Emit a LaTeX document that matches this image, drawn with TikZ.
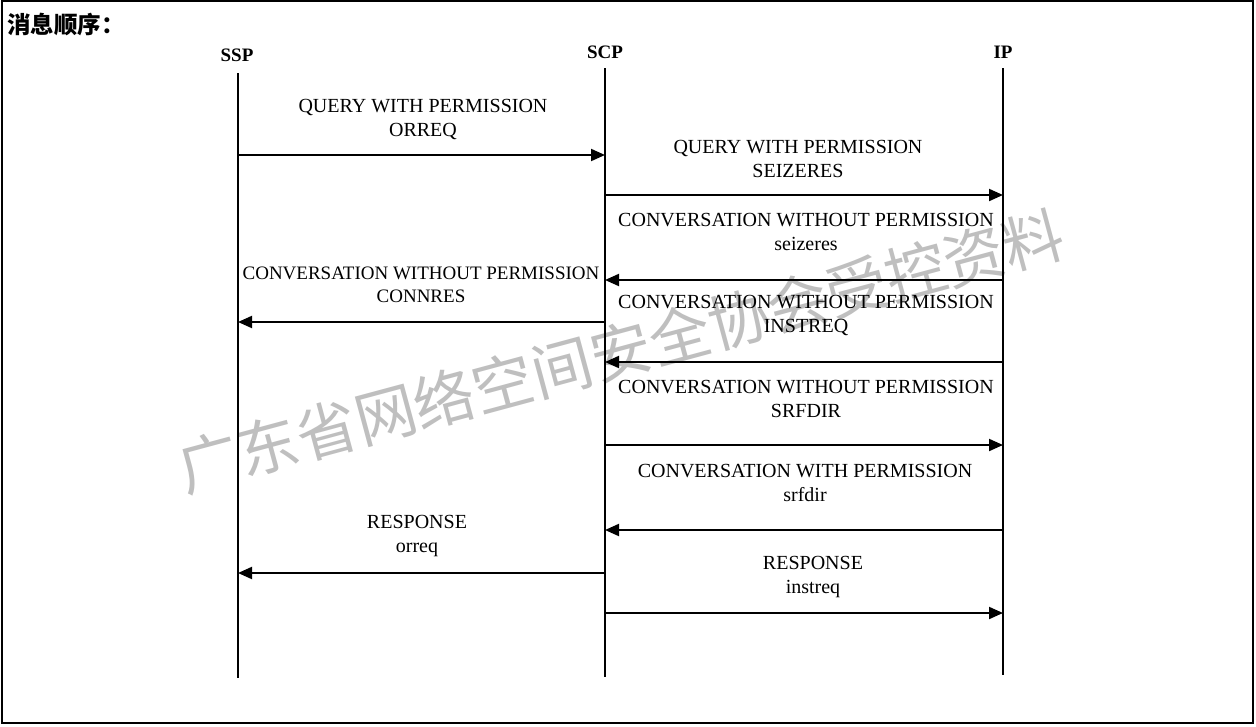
\documentclass[tikz,border=0pt]{standalone}
\usepackage{fontspec}
\setmainfont{Liberation Serif}
\newfontfamily\cjk{Noto Sans CJK SC}
\usetikzlibrary{arrows.meta}
\begin{document}
\begin{tikzpicture}[x=1pt,y=-1pt,
  lifeline/.style={line width=1.3pt},
  msg/.style={line width=2pt,-{Triangle[length=14pt,width=12pt]}},
  lbl/.style={align=center,inner sep=0pt,font=\fontsize{20}{24}\selectfont},
  head/.style={inner sep=0pt,font=\fontsize{19}{22}\selectfont\bfseries}]
\useasboundingbox (0,0) rectangle (1256,726);
% watermark
\node[rotate=15.1,inner sep=0pt,text=black!25,font=\cjk\fontsize{61}{66}\selectfont] (wm) at (621,351) {广东省网络空间安全协会受控资料};
\draw[line width=2pt] (2,1) rectangle (1253,723);
\node[anchor=west,inner sep=0pt,font=\cjk\fontsize{23.5}{26}\selectfont\bfseries] (title) at (7,24) {消息顺序：};
% heads
\node[head] (ssp) at (237,55) {SSP};
\node[head] (scp) at (605,52) {SCP};
\node[head] (ip) at (1003,52) {IP};
% lifelines
\coordinate (sspT) at (238,73); \coordinate (sspB) at (238,678);
\coordinate (scpT) at (605,68); \coordinate (scpB) at (605,677);
\coordinate (ipT) at (1003,68); \coordinate (ipB) at (1003,675);
\draw[lifeline] (sspT) -- (sspB);
\draw[lifeline] (scpT) -- (scpB);
\draw[lifeline] (ipT) -- (ipB);
% message end points
\foreach \n/\y in {1/155,4/322,8/573} {
  \coordinate (s\n) at (238,\y); \coordinate (c\n) at (605,\y);
}
\foreach \n/\y in {2/195,3/280,5/362,6/445,7/530,9/613} {
  \coordinate (c\n) at (605,\y); \coordinate (i\n) at (1003,\y);
}
\draw[msg] (s1) -- (c1);
\draw[msg] (c2) -- (i2);
\draw[msg] (i3) -- (c3);
\draw[msg] (c4) -- (s4);
\draw[msg] (i5) -- (c5);
\draw[msg] (c6) -- (i6);
\draw[msg] (i7) -- (c7);
\draw[msg] (c8) -- (s8);
\draw[msg] (c9) -- (i9);
% labels
\node[lbl] (l1) at (423,119) {QUERY WITH PERMISSION\\ORREQ};
\node[lbl] (l2) at (798,159) {QUERY WITH PERMISSION\\SEIZERES};
\node[lbl] (l3) at (806,232) {CONVERSATION WITHOUT PERMISSION\\seizeres};
\node[lbl,font=\fontsize{19}{23}\selectfont] (l4) at (421,285) {CONVERSATION WITHOUT PERMISSION\\CONNRES};
\node[lbl] (l5) at (806,315) {CONVERSATION WITHOUT PERMISSION\\INSTREQ};
\node[lbl] (l6) at (806,399) {CONVERSATION WITHOUT PERMISSION\\SRFDIR};
\node[lbl] (l7) at (805,483) {CONVERSATION WITH PERMISSION\\srfdir};
\node[lbl] (l8) at (417,536) {RESPONSE\\orreq};
\node[lbl] (l9) at (813,577) {RESPONSE\\instreq};
\end{tikzpicture}
\end{document}
